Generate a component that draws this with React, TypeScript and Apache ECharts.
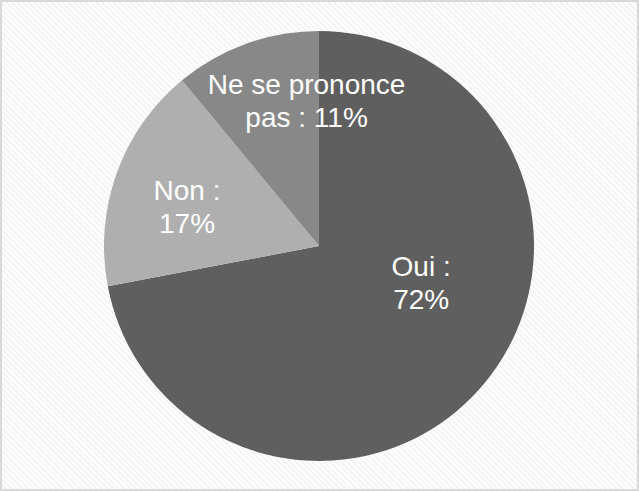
import React, { useEffect, useRef } from "react";
import * as echarts from "echarts";

const categories = ["Oui", "Non", "Ne se prononce pas"];
const values = [72, 17, 11];
const colors = ["#5f5f5f", "#afafaf", "#888888"];
const wrapChars = [5, 5, 14];
const labelShifts = [
  [17, -33],
  [-28, -2],
  [25, -41],
];

function wrap(text: string, max: number): string {
  const words = text.split(" ");
  const lines: string[] = [];
  let cur = "";
  for (const w of words) {
    const next = cur ? cur + " " + w : w;
    if (next.length > max && cur) {
      lines.push(cur);
      cur = w;
    } else {
      cur = next;
    }
  }
  if (cur) lines.push(cur);
  return lines.join("\n");
}

export default function App() {
  const ref = useRef<HTMLDivElement>(null);
  useEffect(() => {
    if (!ref.current) return;
    const chart = echarts.init(ref.current, undefined, { renderer: "svg" });
    chart.setOption({
      animation: false,
      backgroundColor: "transparent",
      series: [
        {
          type: "pie",
          center: [319, 246],
          radius: [0, 215],
          startAngle: 90,
          clockwise: true,
          silent: true,
          itemStyle: { borderWidth: 0 },
          label: {
            show: true,
            position: "inside",
            color: "#ffffff",
            fontFamily: "Liberation Sans, Arial, sans-serif",
            fontSize: 28,
            lineHeight: 33,
            align: "center",
            formatter: (p: any) => wrap(`${p.name} : ${p.value}%`, wrapChars[p.dataIndex]),
          },
          labelLine: { show: false },
          labelLayout: (p: any) => ({
            dx: labelShifts[p.dataIndex][0],
            dy: labelShifts[p.dataIndex][1],
          }),
          data: categories.map((c, i) => ({
            name: c,
            value: values[i],
            itemStyle: { color: colors[i] },
          })),
        },
      ],
    });
    return () => chart.dispose();
  }, []);
  return (
    <div
      style={{
        position: "fixed",
        left: 0,
        top: 0,
        width: 639,
        height: 491,
        boxSizing: "border-box",
        border: "2px solid #d9d9d9",
        background:
          "repeating-linear-gradient(45deg, #ffffff 0px, #ffffff 2px, #f4f4f4 2px, #f4f4f4 4px)",
      }}
    >
      <div ref={ref} style={{ position: "absolute", left: -2, top: -2, width: 639, height: 491 }} />
    </div>
  );
}
